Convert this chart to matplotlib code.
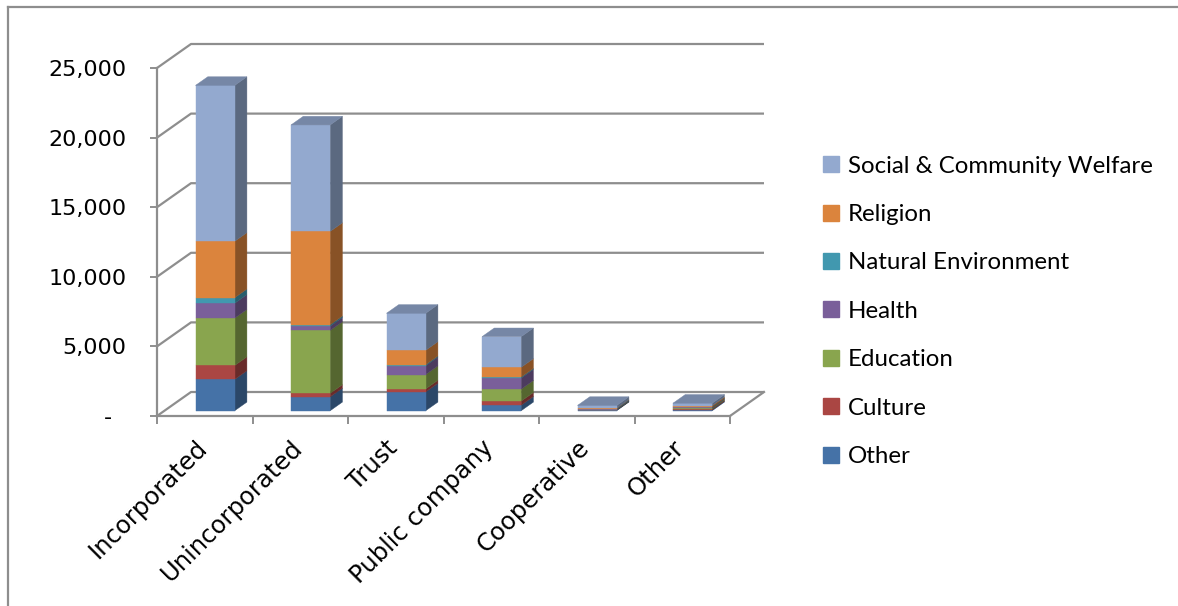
import matplotlib
matplotlib.use("Agg")
import matplotlib.pyplot as plt
from matplotlib.patches import Polygon
from matplotlib.lines import Line2D
from matplotlib.transforms import ScaledTranslation
import matplotlib.colors as mcolors
import numpy as np

plt.rcParams['font.family'] = ['DejaVu Sans']

# ---------------- data ----------------
categories = ["Incorporated", "Unincorporated", "Trust", "Public company", "Cooperative", "Other"]
other     = [2250, 1000, 1350, 400, 40, 70]
culture   = [1000, 250, 220, 290, 10, 60]
education = [3400, 4520, 1030, 860, 30, 70]
health    = [1070, 310, 640, 800, 10, 40]
natural   = [400, 100, 70, 70, 60, 20]
religion  = [4050, 6700, 1030, 700, 20, 100]
social    = [11200, 7650, 2660, 2200, 210, 180]

series_names = ["Other", "Culture", "Education", "Health", "Natural Environment",
                "Religion", "Social & Community Welfare"]
series_vals = [other, culture, education, health, natural, religion, social]
series_colors = ["#4572A7", "#AA4643", "#89A54E", "#7A5F9A", "#4198AF", "#DB843D", "#93A9CF"]

y_ticks = [0, 5000, 10000, 15000, 20000, 25000]
y_tick_labels = ["-  ", "5,000", "10,000", "15,000", "20,000", "25,000"]

# ---------------- layout ----------------
W, H = 1178, 606
fig = plt.figure(figsize=(W / 100, H / 100), dpi=100)
ax = fig.add_axes([157 / W, (H - 416) / H, 573 / W, 348 / H])
n = len(categories)
ax.set_xlim(-0.5, n - 0.5)
ax.set_ylim(0, 25000)

px_x = 573 / n          # pixels per category unit
px_y = 348 / 25000      # pixels per value unit
DX = 34 / px_x          # depth offset of back wall (data units)
DY = 24 / px_y

grid = "#8e8e8e"
# back wall gridlines + side wall diagonals
for v in y_ticks:
    ax.plot([-0.5, -0.5 + DX, n - 0.5 + DX], [v, v + DY, v + DY],
            color=grid, lw=1.6, clip_on=False, zorder=1, solid_capstyle='butt')
# floor right edge
ax.plot([n - 0.5, n - 0.5 + DX], [0, DY], color=grid, lw=1.6, clip_on=False, zorder=1)

# spines / ticks
for s in ["top", "right"]:
    ax.spines[s].set_visible(False)
for s in ["left", "bottom"]:
    ax.spines[s].set_color(grid)
    ax.spines[s].set_linewidth(1.6)
ax.set_yticks(y_ticks)
ax.set_yticklabels(y_tick_labels)
ax.tick_params(axis='y', length=5, width=1.4, color=grid, direction='out', pad=17,
               labelsize=16, labelcolor='black')
ax.set_xticks(np.arange(-0.5, n, 1.0), minor=True)
ax.set_xticks(np.arange(n))
ax.set_xticklabels(categories, rotation=45, ha='right', va='top', rotation_mode='anchor')
ax.tick_params(axis='x', which='major', length=0, pad=14, labelsize=17.5)
ax.tick_params(axis='x', which='minor', length=6, width=1.4, color=grid, direction='out')
shift = ScaledTranslation(-0.10, 0.0, fig.dpi_scale_trans)
for lab in ax.get_xticklabels():
    lab.set_transform(lab.get_transform() + shift)
ax.set_facecolor('none')

# ---------------- 3D-like stacked bars ----------------
depth0 = 0.22           # where the bar front face sits in depth
bdepth = 0.36           # bar depth fraction
BW = 0.41
x_front = np.arange(n) + 0.03 + depth0 * DX
y0 = depth0 * DY
bdx, bdy = bdepth * DX, bdepth * DY


def shade(c, f):
    r, g, b = mcolors.to_rgb(c)
    return (r * f, g * f, b * f)


bottoms = np.zeros(n)
for name, vals, col in zip(series_names, series_vals, series_colors):
    vals = np.asarray(vals, dtype=float)
    ax.bar(x_front, vals, width=BW, bottom=bottoms + y0, color=col, zorder=3,
           linewidth=0.3, edgecolor=col, label=name)
    side = shade(col, 0.62)
    for i in range(n):
        xr = x_front[i] + BW / 2
        b0 = y0 + bottoms[i]
        b1 = b0 + vals[i]
        ax.add_patch(Polygon([(xr, b0), (xr + bdx, b0 + bdy), (xr + bdx, b1 + bdy), (xr, b1)],
                             closed=True, facecolor=side, edgecolor=side, lw=0.3,
                             zorder=2.9, clip_on=False))
    bottoms += vals

# top faces
top_col = shade(series_colors[-1], 0.8)
for i in range(n):
    xl = x_front[i] - BW / 2
    xr = x_front[i] + BW / 2
    t = y0 + bottoms[i]
    ax.add_patch(Polygon([(xl, t), (xl + bdx, t + bdy), (xr + bdx, t + bdy), (xr, t)],
                         closed=True, facecolor=top_col, edgecolor=top_col, lw=0.3,
                         zorder=3.1, clip_on=False))

# ---------------- legend ----------------
handles = [Line2D([], [], marker='s', ls='', color=c, markersize=11)
           for c in series_colors][::-1]
labels = series_names[::-1]
fig.legend(handles, labels, loc='upper left', bbox_to_anchor=(811 / W, 1 - 146 / H),
           frameon=False, prop={'family': ['Lato', 'DejaVu Sans'], 'size': 17.3},
           handlelength=0.85, handletextpad=0.3, labelspacing=1.14, borderaxespad=0)

# ---------------- chart border ----------------
fig.add_artist(Line2D([8 / W, 1.0], [1 - 7 / H, 1 - 7 / H], color=grid, lw=1.6))
fig.add_artist(Line2D([8 / W, 8 / W], [0, 1 - 7 / H], color=grid, lw=1.6))

fig.savefig("out.png", dpi=100)
